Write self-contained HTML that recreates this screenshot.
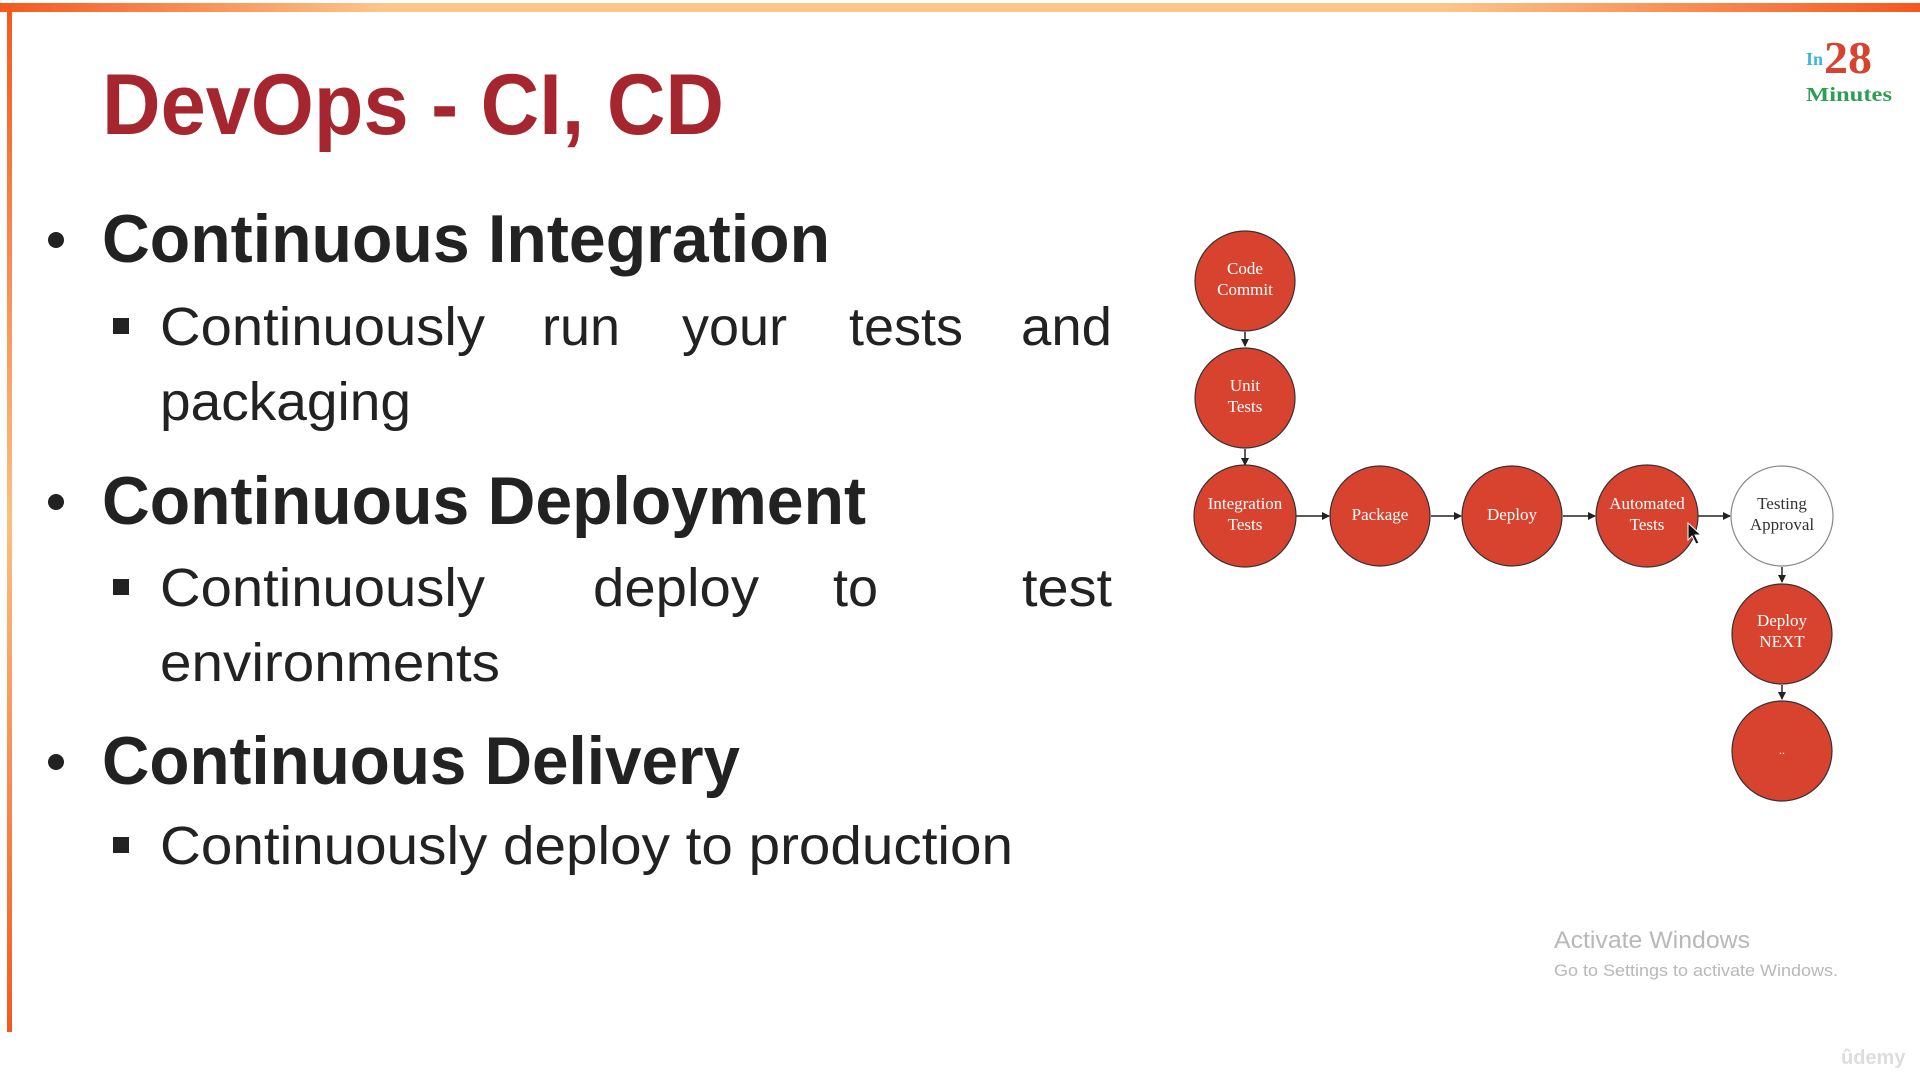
<!DOCTYPE html>
<html><head><meta charset="utf-8"><style>
html,body{margin:0;padding:0;background:#fff;width:1920px;height:1080px;overflow:hidden}
svg{display:block}
</style></head><body>
<svg width="1920" height="1080" viewBox="0 0 1920 1080" xmlns="http://www.w3.org/2000/svg">
<defs>
<linearGradient id="tg" x1="0" x2="1" y1="0" y2="0">
<stop offset="0" stop-color="#f4581f"/><stop offset="0.2" stop-color="#fcc68a"/><stop offset="0.75" stop-color="#fcc68a"/><stop offset="1" stop-color="#f4581f"/>
</linearGradient>
<linearGradient id="lg" x1="0" x2="0" y1="0" y2="1">
<stop offset="0" stop-color="#f4581f"/><stop offset="0.5" stop-color="#fcbf80"/><stop offset="1" stop-color="#f4581f"/>
</linearGradient>
<marker id="ar" markerWidth="8" markerHeight="8" refX="7" refY="4" orient="auto" markerUnits="userSpaceOnUse">
<path d="M0,0 L8,4 L0,8 z" fill="#222"/></marker>
</defs>
<rect x="0" y="3" width="1920" height="9" fill="url(#tg)"/>
<rect x="7" y="6" width="5" height="1026" fill="url(#lg)"/>

<text x="102" y="134" font-family="Liberation Sans, sans-serif" font-weight="bold" font-size="86" fill="#a6262f" textLength="622" lengthAdjust="spacingAndGlyphs">DevOps - CI, CD</text>

<g font-family="Liberation Sans, sans-serif" fill="#222">
<circle cx="56" cy="240" r="8"/>
<text x="102" y="262" font-weight="bold" font-size="68" textLength="728" lengthAdjust="spacingAndGlyphs">Continuous Integration</text>
<rect x="113" y="318" width="16" height="16"/>
<g font-size="54">
<text x="160" y="345" textLength="325" lengthAdjust="spacingAndGlyphs">Continuously</text>
<text x="542" y="345">run</text>
<text x="682" y="345">your</text>
<text x="849" y="345">tests</text>
<text x="1021" y="345" textLength="91" lengthAdjust="spacingAndGlyphs">and</text>
<text x="160" y="420" textLength="251" lengthAdjust="spacingAndGlyphs">packaging</text>
</g>
<circle cx="56" cy="502" r="8"/>
<text x="102" y="524" font-weight="bold" font-size="68" textLength="764" lengthAdjust="spacingAndGlyphs">Continuous Deployment</text>
<rect x="113" y="579" width="16" height="16"/>
<g font-size="54">
<text x="160" y="606" textLength="325" lengthAdjust="spacingAndGlyphs">Continuously</text>
<text x="593" y="606" textLength="166" lengthAdjust="spacingAndGlyphs">deploy</text>
<text x="833" y="606">to</text>
<text x="1022" y="606" textLength="90" lengthAdjust="spacingAndGlyphs">test</text>
<text x="160" y="681" textLength="340" lengthAdjust="spacingAndGlyphs">environments</text>
</g>
<circle cx="56" cy="762" r="8"/>
<text x="102" y="784" font-weight="bold" font-size="68" textLength="638" lengthAdjust="spacingAndGlyphs">Continuous Delivery</text>
<rect x="113" y="837" width="16" height="16"/>
<text x="160" y="864" font-size="54" textLength="853" lengthAdjust="spacingAndGlyphs">Continuously deploy to production</text>
</g>

<g stroke="#222" stroke-width="1.5" marker-end="url(#ar)">
<line x1="1245" y1="332" x2="1245" y2="346"/>
<line x1="1245" y1="449" x2="1245" y2="465"/>
<line x1="1296" y1="516" x2="1329" y2="516"/>
<line x1="1431" y1="516" x2="1461" y2="516"/>
<line x1="1563" y1="516" x2="1595" y2="516"/>
<line x1="1698" y1="516" x2="1730" y2="516"/>
<line x1="1782" y1="567" x2="1782" y2="582"/>
<line x1="1782" y1="685" x2="1782" y2="699"/>
</g>
<g stroke="#333" stroke-width="1.2" fill="#d8432f">
<ellipse cx="1245" cy="281" rx="50" ry="50"/>
<ellipse cx="1245" cy="398" rx="50" ry="50"/>
<ellipse cx="1245" cy="516" rx="51" ry="51"/>
<ellipse cx="1380" cy="516" rx="50" ry="50"/>
<ellipse cx="1512" cy="516" rx="50" ry="50"/>
<ellipse cx="1647" cy="516" rx="51" ry="51"/>
<ellipse cx="1782" cy="516" rx="51" ry="50" fill="#fff" stroke="#888"/>
<ellipse cx="1782" cy="634" rx="50" ry="50"/>
<ellipse cx="1782" cy="751" rx="50" ry="50"/>
</g>
<g font-family="Liberation Serif, serif" font-size="17" fill="#fff" text-anchor="middle">
<text x="1245" y="274">Code</text><text x="1245" y="295">Commit</text>
<text x="1245" y="391">Unit</text><text x="1245" y="412">Tests</text>
<text x="1245" y="509">Integration</text><text x="1245" y="530">Tests</text>
<text x="1380" y="520">Package</text>
<text x="1512" y="520">Deploy</text>
<text x="1647" y="509">Automated</text><text x="1647" y="530">Tests</text>
<text x="1782" y="509" fill="#333">Testing</text><text x="1782" y="530" fill="#333">Approval</text>
<text x="1782" y="626">Deploy</text><text x="1782" y="647">NEXT</text>
<text x="1782" y="754" font-size="12">..</text>
</g>
<path d="M1688,523 L1688,540 L1692,536 L1696,544 L1699,543 L1695,535 L1701,535 z" fill="#111" stroke="#fff" stroke-width="1"/>

<g font-family="Liberation Serif, serif" font-weight="bold">
<text x="1806" y="65" font-size="18" fill="#3bb7d8">In</text>
<text x="1824" y="73" font-size="46" fill="#d8432f" textLength="48" lengthAdjust="spacingAndGlyphs">28</text>
<text x="1806" y="101" font-size="20" fill="#2e9e55" textLength="86" lengthAdjust="spacingAndGlyphs">Minutes</text>
</g>

<g font-family="Liberation Sans, sans-serif" fill="#b8b8b8">
<text x="1554" y="948" font-size="24" textLength="196" lengthAdjust="spacingAndGlyphs">Activate Windows</text>
<text x="1554" y="976" font-size="17" textLength="284" lengthAdjust="spacingAndGlyphs">Go to Settings to activate Windows.</text>
<text x="1841" y="1064" font-size="20" font-weight="bold" fill="#ddd">ûdemy</text>
</g>
</svg>
</body></html>
